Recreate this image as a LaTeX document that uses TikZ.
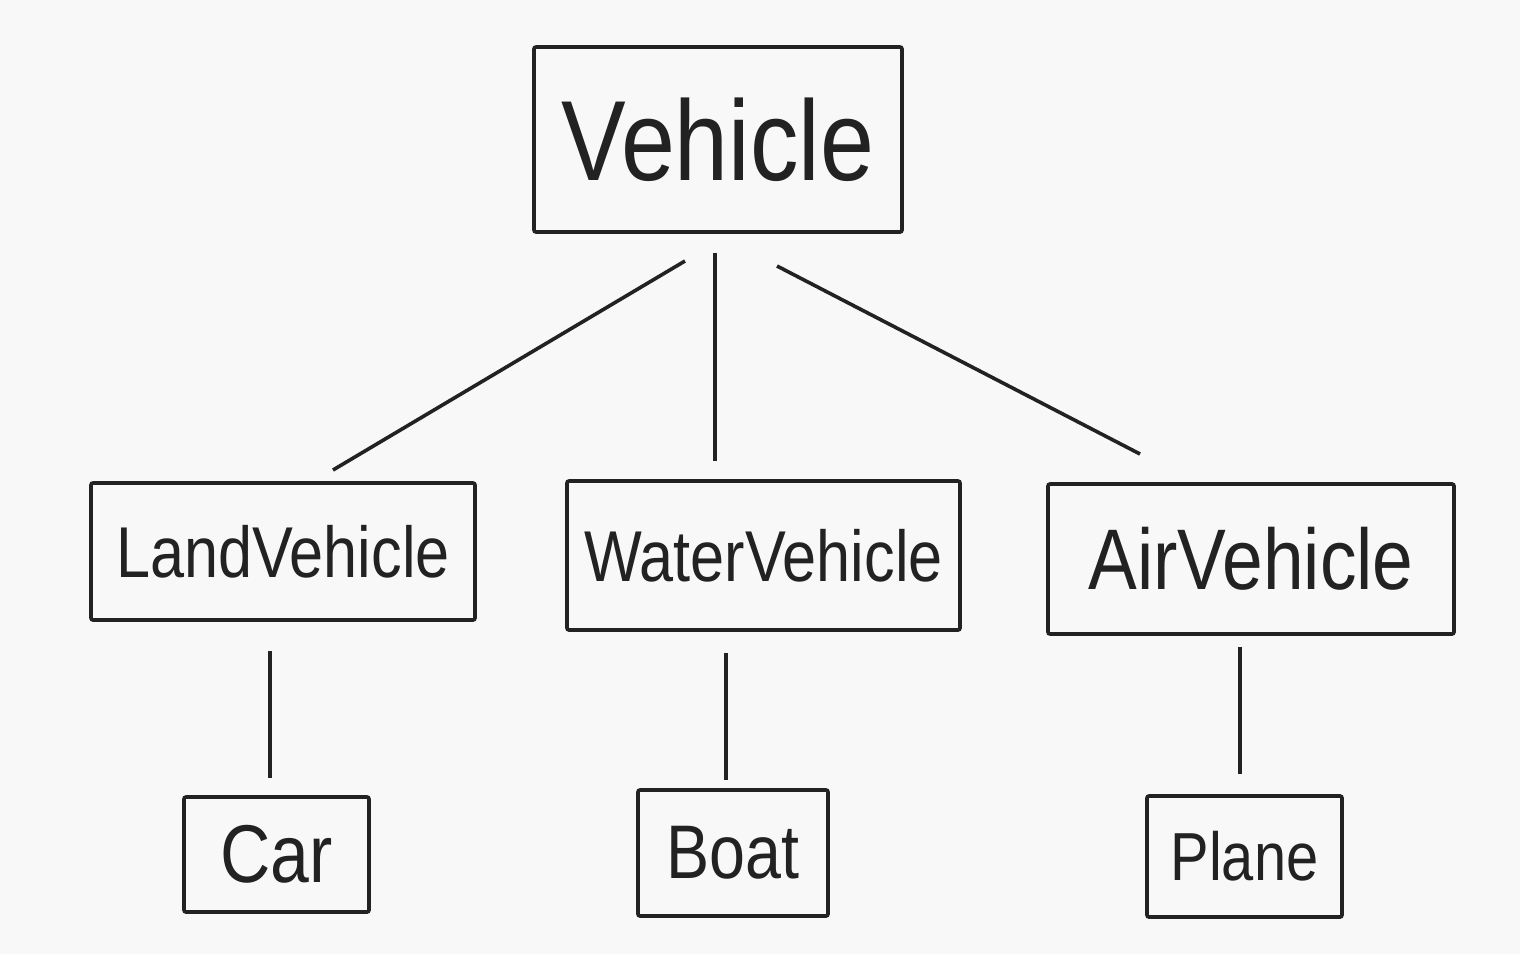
\documentclass[tikz,border=0pt]{standalone}
\usepackage{fontspec}
\setmainfont[FakeStretch=0.85]{Liberation Sans}
\definecolor{bg}{HTML}{F8F8F8}
\definecolor{ink}{HTML}{222222}
\begin{document}
\begin{tikzpicture}[x=0.5pt,y=-0.5pt,
  box/.style={draw=ink,line width=1.8pt,rounded corners=1pt,inner sep=0pt,text=ink},
  link/.style={draw=ink,line width=1.8pt}]
\fill[bg] (0,0) rectangle (1520,954);
\useasboundingbox (0,0) rectangle (1520,954);
% boxes
\node[box,minimum width=184pt,minimum height=92.5pt,font=\fontsize{57}{60}\selectfont] (veh) at (718,139.5) {Vehicle};
\node[box,minimum width=192pt,minimum height=68.5pt,font=\fontsize{36}{40}\selectfont] (land) at (283,551.5) {LandVehicle};
\node[box,minimum width=196.5pt,minimum height=74.5pt,font=\fontsize{36}{40}\selectfont] (water) at (763.5,555.5) {WaterVehicle};
\node[box,minimum width=203pt,minimum height=75pt,font=\fontsize{43}{46}\selectfont] (air) at (1251,559) {AirVehicle};
\node[box,minimum width=92.5pt,minimum height=57.5pt,font=\fontsize{41}{44}\selectfont] (car) at (276.5,854.5) {Car};
\node[box,minimum width=95pt,minimum height=63pt,font=\fontsize{38}{42}\selectfont] (boat) at (733,853) {Boat};
\node[box,minimum width=97.5pt,minimum height=60.5pt,font=\fontsize{34}{38}\selectfont] (plane) at (1244.5,856.5) {Plane};
% connector end points
\coordinate (v1) at (685,261);
\coordinate (l1) at (333,470);
\coordinate (v2) at (715,253);
\coordinate (w1) at (715,461);
\coordinate (v3) at (777,266);
\coordinate (a1) at (1140,454);
\coordinate (l2) at (270,651);
\coordinate (c1) at (270,778);
\coordinate (w2) at (726,653);
\coordinate (b1) at (726,780);
\coordinate (a2) at (1240,647);
\coordinate (p1) at (1240,774);
\draw[link] (v1) -- (l1);
\draw[link] (v2) -- (w1);
\draw[link] (v3) -- (a1);
\draw[link] (l2) -- (c1);
\draw[link] (w2) -- (b1);
\draw[link] (a2) -- (p1);
\end{tikzpicture}
\end{document}
